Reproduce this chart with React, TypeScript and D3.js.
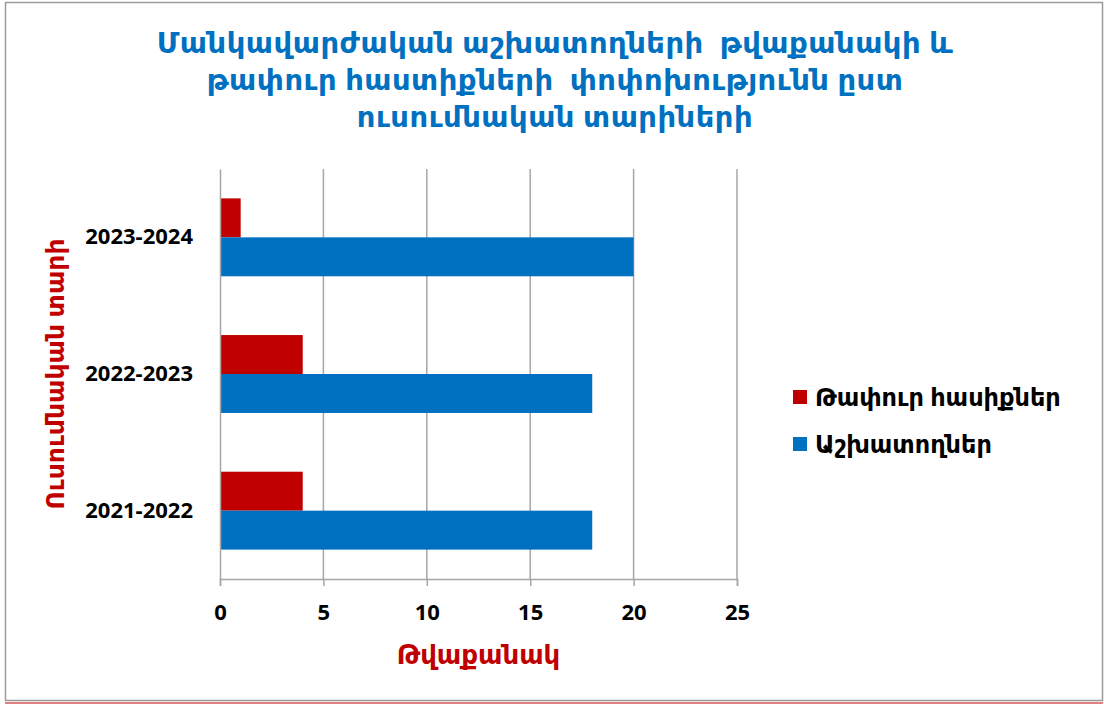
import { useEffect, useRef } from 'react'
import * as d3 from 'd3'

const TITLE_LINES = [
  'Մանկավարժական աշխատողների  թվաքանակի և',
  'թափուր հաստիքների  փոփոխությունն ըստ',
  'ուսումնական տարիների',
]
const YEARS = ['2021-2022', '2022-2023', '2023-2024']
const SERIES = ['Թափուր հասիքներ', 'Աշխատողներ']
const WORKERS = [18, 18, 20]
const VACANCIES = [4, 4, 1]
const X_TICKS = [0, 5, 10, 15, 20, 25]
const COLORS = ['#C00000', '#0070C0']

const W = 1104
const H = 704
const PLOT = { left: 220, right: 737, top: 169, bottom: 579 }
const FONT = '"Noto Sans", "DejaVu Sans", sans-serif'

export default function App() {
  const axesRef = useRef(null)

  const xScale = d3.scaleLinear().domain([0, 25]).range([PLOT.left, PLOT.right])
  // top category is the last year, like excel does
  const yScale = d3
    .scaleBand()
    .domain([...YEARS].reverse())
    .range([PLOT.top, PLOT.bottom])
    .paddingInner(0.43)
    .paddingOuter(0.215)
  const inner = d3.scaleBand().domain(SERIES).range([0, yScale.bandwidth()])
  const values = [VACANCIES, WORKERS]

  useEffect(() => {
    const g = d3.select(axesRef.current)
    g.selectAll('*').remove()

    const xAxis = d3.axisBottom(xScale).tickValues(X_TICKS).tickSize(7).tickPadding(18)
    const ax = g.append('g').attr('transform', `translate(0,${PLOT.bottom})`).call(xAxis)
    ax.select('.domain').attr('stroke', '#A6A6A6').attr('stroke-width', 1.5)
    ax.selectAll('line').attr('stroke', '#A6A6A6').attr('stroke-width', 1.5)
    ax.selectAll('text')
      .attr('fill', '#000')
      .style('font-family', FONT)
      .style('font-size', '22px')
      .style('font-weight', 'bold')

    const yAxis = d3.axisLeft(yScale).tickSize(0).tickPadding(27)
    const ay = g.append('g').attr('transform', `translate(${PLOT.left},0)`).call(yAxis)
    ay.select('.domain').attr('stroke', '#A6A6A6').attr('stroke-width', 1.5)
    ay.selectAll('text')
      .attr('fill', '#000')
      .style('font-family', FONT)
      .style('font-size', '22px')
      .style('font-weight', 'bold')
  }, [])

  const grid = X_TICKS.filter((t) => t > 0).map((t) => (
    <line
      key={t}
      x1={xScale(t)}
      x2={xScale(t)}
      y1={PLOT.top}
      y2={PLOT.bottom}
      stroke="#A6A6A6"
      strokeWidth={1.5}
    />
  ))

  const bars = YEARS.flatMap((year, i) =>
    SERIES.map((s, j) => (
      <rect
        key={year + s}
        x={xScale(0)}
        y={yScale(year) + inner(s)}
        width={xScale(values[j][i]) - xScale(0)}
        height={inner.bandwidth()}
        fill={COLORS[j]}
      />
    ))
  )

  return (
    <svg width={W} height={H} style={{ position: 'absolute', left: 0, top: 0 }}>
      <rect x={0} y={0} width={W} height={H} fill="#fff" />
      <rect x={5.5} y={2.5} width={1097} height={698} fill="#fff" stroke="#9A9A9A" strokeWidth={1.5} />
      <line x1={5} x2={1103} y1={703} y2={703} stroke="#C00000" strokeWidth={1} />
      {TITLE_LINES.map((line, i) => (
        <text
          key={i}
          x={555}
          y={53 + i * 37}
          textAnchor="middle"
          fill="#0070C0"
          style={{ fontFamily: FONT, fontSize: '29px', fontWeight: 'bold', whiteSpace: 'pre', letterSpacing: '0.5px' }}
        >
          {line}
        </text>
      ))}
      {grid}
      {bars}
      <g ref={axesRef} />
      <text
        transform={`translate(64,${(PLOT.top + PLOT.bottom) / 2}) rotate(-90)`}
        textAnchor="middle"
        fill="#C00000"
        style={{ fontFamily: FONT, fontSize: '25px', fontWeight: 'bold' }}
      >
        Ուսումնական տարի
      </text>
      <text
        x={(PLOT.left + PLOT.right) / 2}
        y={664}
        textAnchor="middle"
        fill="#C00000"
        style={{ fontFamily: FONT, fontSize: '26px', fontWeight: 'bold' }}
      >
        Թվաքանակ
      </text>
      {SERIES.map((s, i) => (
        <g key={s} transform={`translate(793,${390 + i * 47})`}>
          <rect width={14} height={14} fill={COLORS[i]} />
          <text
            x={22}
            y={16}
            fill="#000"
            style={{ fontFamily: FONT, fontSize: '24px', fontWeight: 'bold' }}
          >
            {s}
          </text>
        </g>
      ))}
    </svg>
  )
}
